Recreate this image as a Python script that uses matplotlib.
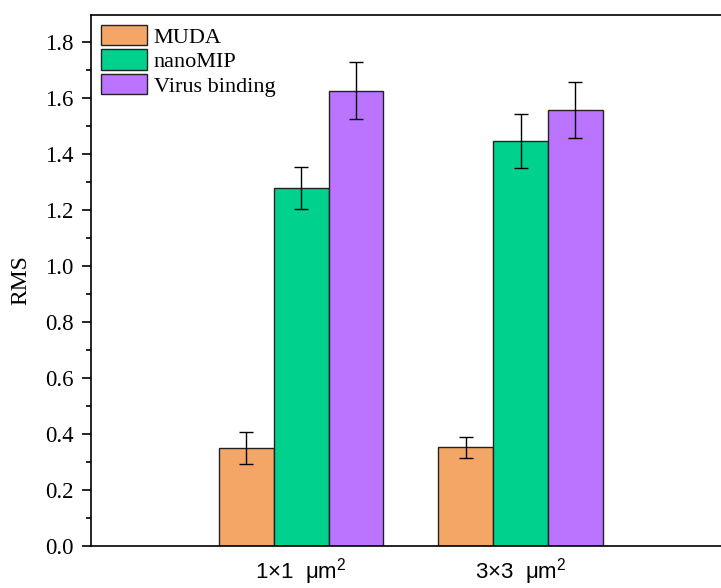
import matplotlib
matplotlib.use("Agg")
import matplotlib.pyplot as plt
import numpy as np
from matplotlib.ticker import MultipleLocator, FormatStrFormatter

# data
groups = ["1\u00d71  \u03bcm$^{2}$", "3\u00d73  \u03bcm$^{2}$"]
series = ["MUDA", "nanoMIP", "Virus binding"]
muda = [0.35, 0.352]
muda_err = [0.056, 0.038]
nanomip = [1.277, 1.447]
nanomip_err = [0.075, 0.096]
virus = [1.626, 1.558]
virus_err = [0.101, 0.100]

colors = ["#F4A666", "#00D18D", "#BA74FF"]

plt.rcParams["font.family"] = ["Liberation Serif", "DejaVu Serif"]
plt.rcParams["mathtext.fontset"] = "custom"
plt.rcParams["mathtext.rm"] = "Liberation Sans"
plt.rcParams["mathtext.it"] = "Liberation Sans:italic"

fig = plt.figure(figsize=(7.21, 5.88), dpi=100)
ax = fig.add_axes([91 / 721, 42 / 588, 630 / 721, 531 / 588])

x = np.arange(len(groups))
w = 0.25
vals = [muda, nanomip, virus]
errs = [muda_err, nanomip_err, virus_err]
for i, (v, e) in enumerate(zip(vals, errs)):
    ax.bar(x + (i - 1) * w, v, w, color=colors[i], edgecolor="#222222",
           linewidth=1.0, label=series[i], zorder=2)
    ax.errorbar(x + (i - 1) * w, v, yerr=e, fmt="none", ecolor="black",
                elinewidth=1.0, capsize=5, capthick=1.0, zorder=3)

ax.set_xlim(-0.957, 1.913)
ax.set_ylim(0, 1.896)
ax.yaxis.set_major_locator(MultipleLocator(0.2))
ax.yaxis.set_minor_locator(MultipleLocator(0.1))
ax.yaxis.set_major_formatter(FormatStrFormatter("%.1f"))
ax.tick_params(axis="y", which="major", length=6.5, width=1.2, labelsize=16.5,
               pad=6, direction="out")
ax.tick_params(axis="y", which="minor", length=3.6, width=1.2, direction="out")
ax.set_xticks(x)
ax.set_xticklabels(groups, fontsize=16, family=["Liberation Sans", "DejaVu Sans"])
ax.tick_params(axis="x", length=0, pad=7)
ax.spines["right"].set_visible(False)
for s in ["left", "bottom", "top"]:
    ax.spines[s].set_linewidth(1.2)

ax.set_ylabel("RMS", fontsize=17, labelpad=10)

ax.legend(loc="upper left", bbox_to_anchor=(0.0, 1.0), frameon=False,
          fontsize=16, handlelength=2.07, handleheight=1.04,
          labelspacing=0.07, handletextpad=0.3, borderpad=0.25,
          borderaxespad=0.2)

fig.savefig("out.png", dpi=100)
